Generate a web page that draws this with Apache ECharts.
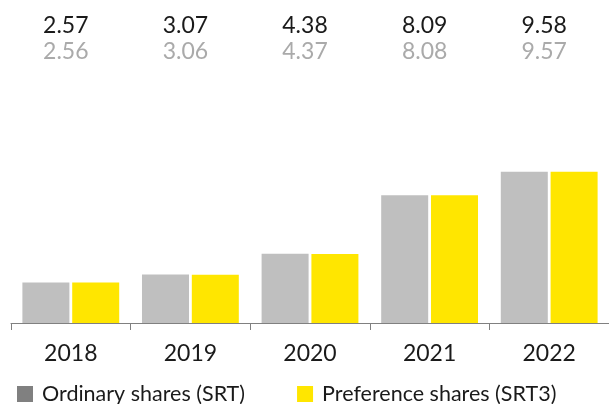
<!DOCTYPE html>
<html lang="en" style="height: 100%">
<head>
  <meta charset="utf-8">
</head>
<body style="height: 100%; margin: 0">
  <div id="container" style="width: 609px; height: 404px"></div>

  <script type="text/javascript" src="https://fastly.jsdelivr.net/npm/echarts@6.0.0/dist/echarts.min.js"></script>
  <script type="text/javascript">
    var years = ['2018', '2019', '2020', '2021', '2022'];
    var ordinary = [2.57, 3.07, 4.38, 8.09, 9.58];
    var preference = [2.56, 3.06, 4.37, 8.08, 9.57];

    var dom = document.getElementById('container');
    var myChart = echarts.init(dom, null, { renderer: 'canvas' });
    var font = 'Lato, "Noto Sans", sans-serif';

    var option = {
      animation: false,
      textStyle: { fontFamily: font },
      grid: { left: 11, width: 602, top: 165, bottom: 81 },
      legend: {
        left: 12,
        top: 378,
        itemWidth: 16,
        itemHeight: 16,
        itemGap: 52,
        icon: 'rect',
        textStyle: { fontSize: 21.5, color: '#1a1a1a', fontFamily: font, padding: [0, 0, 0, 4] },
        data: [
          { name: 'Ordinary shares (SRT)', itemStyle: { color: '#808080' } },
          { name: 'Preference shares (SRT3)', itemStyle: { color: '#ffe600' } }
        ]
      },
      xAxis: [
        {
          type: 'category',
          data: years,
          axisLine: { lineStyle: { color: '#808080', width: 1 } },
          axisTick: { show: true, length: 7, lineStyle: { color: '#808080', width: 1 } },
          axisLabel: { fontSize: 23, color: '#1a1a1a', margin: 19, fontFamily: font }
        },
        {
          type: 'category',
          position: 'top',
          data: years,
          axisLine: { show: false },
          axisTick: { show: false },
          axisLabel: {
            margin: 100,
            padding: [0, 10, 0, 0],
            formatter: function (v, i) {
              return '{a|' + ordinary[i].toFixed(2) + '}\n{b|' + preference[i].toFixed(2) + '}';
            },
            rich: {
              a: { fontSize: 23, color: '#1a1a1a', lineHeight: 26, fontFamily: font },
              b: { fontSize: 23, color: '#aaaaaa', lineHeight: 26, fontFamily: font }
            }
          }
        }
      ],
      yAxis: {
        type: 'value',
        min: 0,
        max: 10,
        show: false,
        splitLine: { show: false }
      },
      series: [
        {
          name: 'Ordinary shares (SRT)',
          type: 'bar',
          barWidth: 47,
          barGap: '6%',
          itemStyle: { color: '#bfbfbf' },
          data: ordinary
        },
        {
          name: 'Preference shares (SRT3)',
          type: 'bar',
          barWidth: 47,
          itemStyle: { color: '#ffe600' },
          data: preference
        }
      ]
    };

    myChart.setOption(option);
    window.addEventListener('resize', myChart.resize);
  </script>
</body>
</html>
